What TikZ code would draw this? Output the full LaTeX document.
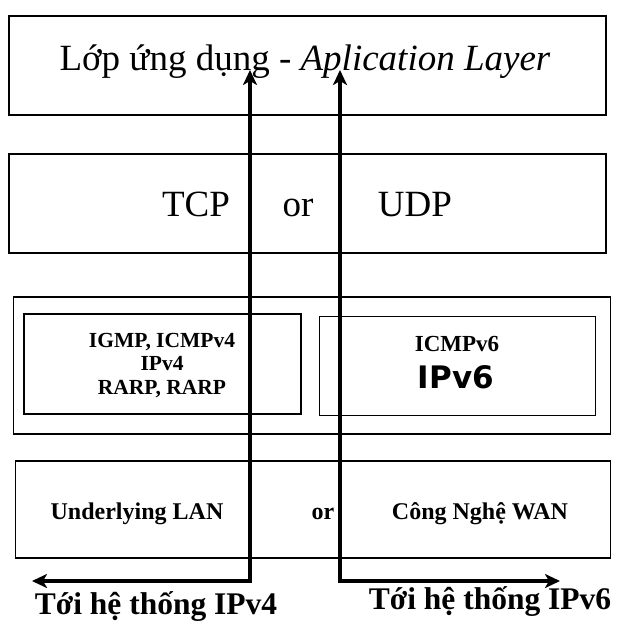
\documentclass[tikz,border=0pt]{standalone}
\usepackage{fontspec}
\setmainfont{Liberation Serif}
\newfontfamily\ipvsix{DejaVu Sans}
\usetikzlibrary{arrows.meta}
\tikzset{
  layer/.style={draw, line width=1.6pt, inner sep=0pt},
  inner/.style={draw, line width=1.2pt, inner sep=0pt},
  txt/.style={inner sep=0pt, anchor=base, align=center},
  arr/.style={line width=4.5pt, {Stealth[length=15pt,width=14pt,inset=4pt]}-{Stealth[length=15pt,width=14pt,inset=4pt]}},
}
\begin{document}
\begin{tikzpicture}[x=1pt,y=-1pt]
\useasboundingbox (0,0) rectangle (619,621);
% layers
\node[layer, minimum width=597pt, minimum height=99pt] (app) at (307.5,65.5) {};
\node[layer, minimum width=597pt, minimum height=99pt] (tcp) at (307.5,203.5) {};
\node[layer, minimum width=597pt, minimum height=137pt] (ip) at (312,365.5) {};
\node[inner, minimum width=277pt, minimum height=100pt] (ip4) at (162.5,364) {};
\node[inner, minimum width=276pt, minimum height=99pt] (ip6) at (457.5,366) {};
\node[layer, minimum width=595pt, minimum height=97pt] (lan) at (313,509.5) {};
% texts
\node[txt, font=\fontsize{37}{37}\selectfont] (tapp) at (305,70) {Lớp ứng dụng - \textit{Aplication Layer}};
\node[txt, font=\fontsize{37}{37}\selectfont] (ttcp) at (196,216) {TCP};
\node[txt, font=\fontsize{37}{37}\selectfont] (tor1) at (298,216) {or};
\node[txt, font=\fontsize{37}{37}\selectfont] (tudp) at (415,216) {UDP};
\node[txt, font=\bfseries\fontsize{21.5}{21.5}\selectfont] (t1) at (162,347) {IGMP, ICMPv4};
\node[txt, font=\bfseries\fontsize{21.5}{21.5}\selectfont] (t2) at (162,370) {IPv4};
\node[txt, font=\bfseries\fontsize{21.5}{21.5}\selectfont] (t3) at (162,394) {RARP, RARP};
\node[txt, font=\bfseries\fontsize{23}{23}\selectfont] (t4) at (457,351) {ICMPv6};
\node[txt, font=\ipvsix\bfseries\fontsize{31}{31}\selectfont] (t5) at (456,388) {IPv6};
\node[txt, font=\bfseries\fontsize{24}{24}\selectfont] (t6) at (137,519) {Underlying LAN};
\node[txt, font=\bfseries\fontsize{24}{24}\selectfont] (t7) at (323,519) {or};
\node[txt, font=\bfseries\fontsize{24}{24}\selectfont] (t8) at (480,519) {Công Nghệ WAN};
\node[txt, font=\bfseries\fontsize{31.5}{31.5}\selectfont] (t9) at (156,614) {Tới hệ thống IPv4};
\node[txt, font=\bfseries\fontsize{31.5}{31.5}\selectfont] (t10) at (490,609) {Tới hệ thống IPv6};
% arrows
\coordinate (tip4) at (250,70);
\coordinate (c4) at (250,581);
\coordinate (end4) at (32,581);
\coordinate (tip6) at (340,70);
\coordinate (c6) at (340,581);
\coordinate (end6) at (560,581);
\draw[arr] (tip4) -- (c4) -- (end4);
\draw[arr] (tip6) -- (c6) -- (end6);
\end{tikzpicture}
\end{document}
